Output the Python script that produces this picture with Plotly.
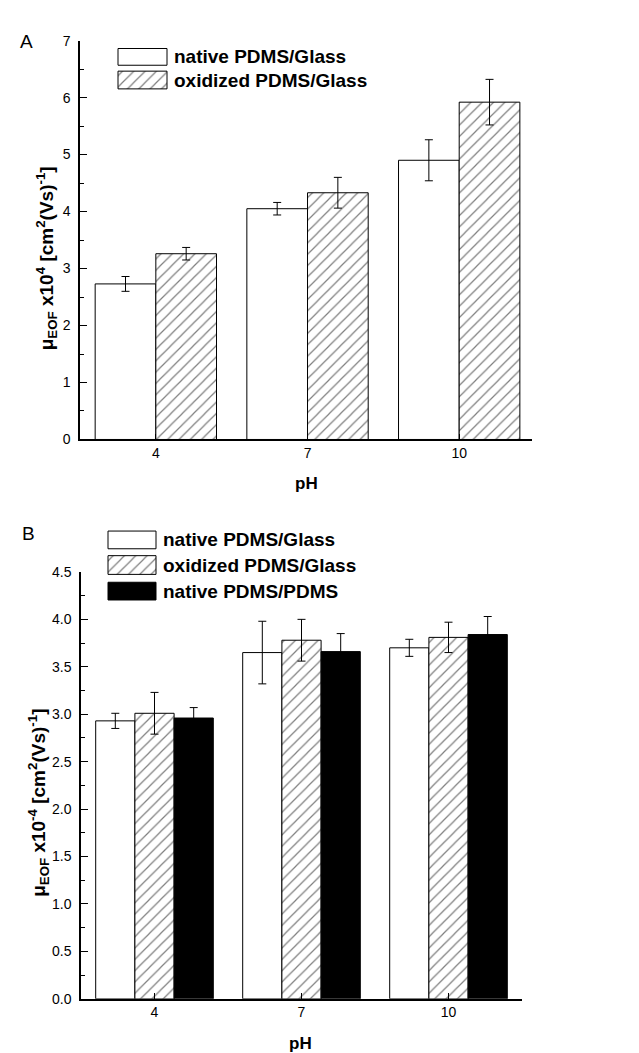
import plotly.graph_objects as go

# ---------------- data ----------------
ph_labels = ["4", "7", "10"]
series_a = ["native PDMS/Glass", "oxidized PDMS/Glass"]
a_native = [2.73, 4.05, 4.90]
a_native_err = [0.13, 0.11, 0.36]
a_oxid = [3.26, 4.33, 5.92]
a_oxid_err = [0.11, 0.27, 0.40]

series_b = ["native PDMS/Glass", "oxidized PDMS/Glass", "native PDMS/PDMS"]
b_native = [2.93, 3.65, 3.70]
b_native_err = [0.08, 0.33, 0.09]
b_oxid = [3.01, 3.78, 3.81]
b_oxid_err = [0.22, 0.22, 0.16]
b_pdms = [2.96, 3.66, 3.84]
b_pdms_err = [0.11, 0.19, 0.19]

W, H = 639, 1053
FONT = "Liberation Sans, Arial, sans-serif"
xpos = list(range(len(ph_labels)))

HATCH = dict(shape="/", fgcolor="black", bgcolor="white", size=8, solidity=0.15)
styles = {
    "white": dict(color="white", line=dict(color="black", width=1)),
    "hatch": dict(color="white", pattern=HATCH, line=dict(color="black", width=1)),
    "black": dict(color="black", line=dict(color="black", width=1)),
}


def err(a):
    return dict(type="data", array=a, color="black", thickness=1, width=4)


fig = go.Figure()
# Panel A
fig.add_trace(go.Bar(x=xpos, y=a_native, error_y=err(a_native_err), marker=styles["white"],
                     name=series_a[0], xaxis="x", yaxis="y", offsetgroup="a1"))
fig.add_trace(go.Bar(x=xpos, y=a_oxid, error_y=err(a_oxid_err), marker=styles["hatch"],
                     name=series_a[1], xaxis="x", yaxis="y", offsetgroup="a2"))
# Panel B
fig.add_trace(go.Bar(x=xpos, y=b_native, error_y=err(b_native_err), marker=styles["white"],
                     name=series_b[0], xaxis="x2", yaxis="y2", offsetgroup="b1"))
fig.add_trace(go.Bar(x=xpos, y=b_oxid, error_y=err(b_oxid_err), marker=styles["hatch"],
                     name=series_b[1], xaxis="x2", yaxis="y2", offsetgroup="b2"))
fig.add_trace(go.Bar(x=xpos, y=b_pdms, error_y=err(b_pdms_err), marker=styles["black"],
                     name=series_b[2], xaxis="x2", yaxis="y2", offsetgroup="b3"))

# ---------------- manual legends (pixel overlay axis) ----------------
def swatch(x0, x1, y0, y1, kind):
    kw = dict(x=[x0, x1, x1, x0, x0], y=[y0, y0, y1, y1, y0], mode="lines", fill="toself",
              line=dict(color="black", width=1), xaxis="x3", yaxis="y3",
              showlegend=False, hoverinfo="skip")
    if kind == "white":
        kw["fillcolor"] = "white"
    elif kind == "black":
        kw["fillcolor"] = "black"
    else:
        kw["fillcolor"] = "white"
        kw["fillpattern"] = HATCH
    fig.add_trace(go.Scatter(**kw))


annotations = []


def label(x, y, text, size=19, bold=True, xanchor="left", angle=0):
    t = f"<b>{text}</b>" if bold else text
    annotations.append(dict(x=x, y=y, xref="x3", yref="y3", text=t, showarrow=False,
                            xanchor=xanchor, yanchor="middle", textangle=angle,
                            font=dict(family=FONT, size=size, color="black")))


leg_a = [(33, 50, "white"), (56, 74, "hatch")]
for (y0, y1, k), name in zip(leg_a, series_a):
    swatch(110, 159, y0, y1, k)
    label(164, (y0 + y1) / 2, name)

leg_b = [(523, 541, "white"), (548, 567, "hatch"), (575, 593, "black")]
for (y0, y1, k), name in zip(leg_b, series_b):
    swatch(100, 148, y0, y1, k)
    label(153, (y0 + y1) / 2, name)

# panel letters
label(18, 26, "A", size=19, bold=False, xanchor="center")
label(20, 525, "B", size=19, bold=False, xanchor="center")
# x titles
label(298, 475, "pH", size=17, xanchor="center")
label(292, 1043, "pH", size=17, xanchor="center")
# y titles
label(38, 246, "μ<sub>EOF</sub> x10<sup>4</sup> [cm<sup>2</sup>(Vs)<sup>-1</sup>]", size=19,
      xanchor="center", angle=-90)
label(31, 799, "μ<sub>EOF</sub> x10<sup>-4</sup> [cm<sup>2</sup>(Vs)<sup>-1</sup>]", size=19,
      xanchor="center", angle=-90)

# ---------------- axes ----------------
tickfont = dict(family=FONT, size=14, color="black")
common_x = dict(tickmode="array", tickvals=xpos, ticktext=ph_labels, showline=True,
                linecolor="black", linewidth=1.5, ticks="inside", ticklen=6, tickwidth=1,
                tickcolor="black", showgrid=False, zeroline=False, tickfont=tickfont,
                fixedrange=True)
common_y = dict(showline=True, linecolor="black", linewidth=1.5, ticks="inside", ticklen=7,
                tickwidth=1, tickcolor="black", showgrid=False, zeroline=False,
                tickfont=tickfont, ticklabelstandoff=5, fixedrange=True)

fig.update_layout(
    width=W, height=H, autosize=False,
    margin=dict(l=0, r=0, t=0, b=0),
    paper_bgcolor="white", plot_bgcolor="rgba(0,0,0,0)",
    barmode="group", bargap=0.2, bargroupgap=0,
    showlegend=False,
    font=dict(family=FONT, color="black"),
    xaxis=dict(domain=[72 / W, 524 / W], range=[-0.5, 2.48], anchor="y", **common_x),
    yaxis=dict(domain=[1 - 430 / H, 1 - 25 / H], range=[0, 7], dtick=1, anchor="x",
               minor=dict(ticks="inside", ticklen=4, dtick=0.5, tickcolor="black"), **common_y),
    xaxis2=dict(domain=[73 / W, 514 / W], range=[-0.5, 2.5], anchor="y2", **common_x),
    yaxis2=dict(domain=[1 - 998 / H, 1 - 564.5 / H], range=[0, 4.5], dtick=0.5,
                tickformat=".1f", anchor="x2",
                minor=dict(ticks="inside", ticklen=4, dtick=0.25, tickcolor="black"), **common_y),
    xaxis3=dict(domain=[0, 1], range=[0, W], visible=False, anchor="y3", fixedrange=True),
    yaxis3=dict(domain=[0, 1], range=[H, 0], visible=False, anchor="x3", fixedrange=True),
    annotations=annotations,
)

fig.write_html("out.html")
